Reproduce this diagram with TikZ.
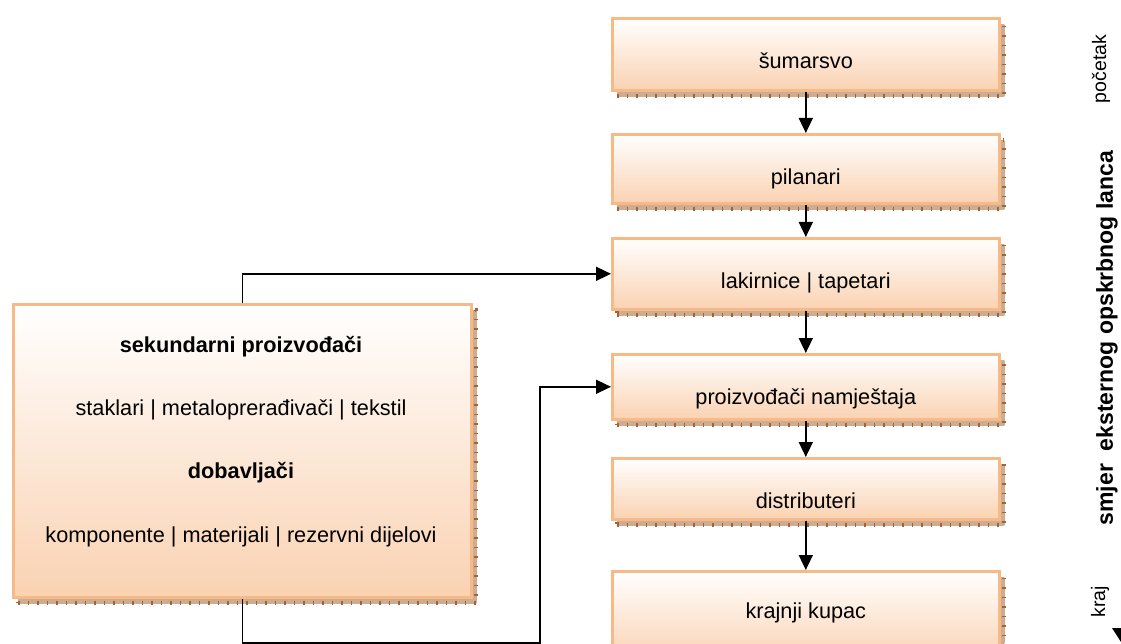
\documentclass[tikz,border=0pt]{standalone}
\usepackage{fontspec}
\setmainfont{Liberation Sans}
\usetikzlibrary{arrows.meta,calc}
\definecolor{peach}{RGB}{250,210,178}
\definecolor{boxline}{RGB}{247,186,135}
\definecolor{shtan}{RGB}{205,172,145}
\definecolor{shtick}{RGB}{160,100,60}
\tikzset{
  shadowed/.style={
    preaction={top color=shtan, bottom color=shtan, draw=none, transform canvas={shift={(5pt,-6pt)}}},
    preaction={draw=shtick, line width=4pt, dash pattern=on 1.5pt off 8pt, transform canvas={shift={(5pt,-6pt)}}}
  },
  box/.style={draw=boxline, line width=2.6pt, top color=white, bottom color=peach,
    shadowed, inner sep=0pt, anchor=north west},
  rbox/.style={box, minimum width=387pt},
  arr/.style={line width=1.6pt, -{Triangle[length=15pt,width=14pt]}},
  txt/.style={font=\fontsize{21.7pt}{26pt}\selectfont},
  btxt/.style={font=\fontsize{21.7pt}{26pt}\selectfont\bfseries},
  side/.style={rotate=90, font=\fontsize{19.5pt}{22pt}\selectfont},
  bside/.style={rotate=90, font=\fontsize{23pt}{27pt}\selectfont\bfseries}
}
\begin{document}
\begin{tikzpicture}[x=1pt,y=-1pt]
\clip (0,0) rectangle (1121,644);
\fill[white] (0,0) rectangle (1121,644);

% right chain
\node[rbox, txt, text height=50.6pt, text depth=21.4pt] (b1) at (611,17) {šumarsvo};
\node[rbox, txt, text height=50.6pt, text depth=18.4pt] (b2) at (611,133) {pilanari};
\node[rbox, txt, text height=50.6pt, text depth=20.4pt] (b3) at (611,237) {lakirnice | tapetari};
\node[rbox, txt, text height=50.6pt, text depth=14.4pt] (b4) at (611,353) {proizvođači namještaja};
\node[rbox, txt, text height=50.6pt, text depth=10.4pt] (b5) at (611,457) {distributeri};
\node[rbox, txt, text height=47.6pt, text depth=42.4pt] (b6) at (611,570) {krajnji kupac};

\draw[arr] (b1.south) -- (b2.north);
\draw[arr] (b2.south) -- (b3.north);
\draw[arr] (b3.south) -- (b4.north);
\draw[arr] (b4.south) -- (b5.north);
\draw[arr] (b5.south) -- (b6.north);

% left box
\node[box, minimum width=458pt, minimum height=293pt] (L) at (12,303) {};
\node[btxt] (l1) at (241,347) {sekundarni proizvođači};
\node[txt]  (l2) at (241,410) {staklari | metaloprerađivači | tekstil};
\node[btxt] (l3) at (241,473) {dobavljači};
\node[txt]  (l4) at (241,537) {komponente | materijali | rezervni dijelovi};

\coordinate (cb) at (540,643);
\draw[arr] (L.north) |- (b3.west);
\draw[arr] (L.south) |- (cb) |- (b4.west);

% side labels
\node[side] (start) at (1101,69) {početak};
\node[bside] (dir) at (1107,338) {smjer\ \ eksternog opskrbnog lanca};
\node[side] (end) at (1100,602) {kraj};
\fill (1112,628) -- (1130,628) -- (1121,642) -- cycle;
\end{tikzpicture}
\end{document}
